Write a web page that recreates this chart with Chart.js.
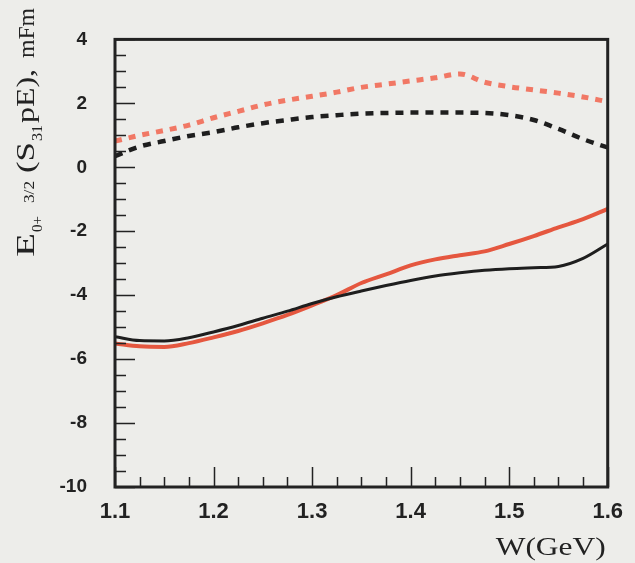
<!DOCTYPE html>
<html lang="en">
<head>
  <meta charset="UTF-8">
  <title>E0+ 3/2 (S31 pE)</title>
  <script src="https://cdn.jsdelivr.net/npm/chart.js"></script>
  <style>
    body {
      margin: 0;
      padding: 0;
      background-color: #ededea;
    }
    #wrap {
      width: 635px;
      height: 563px;
    }
  </style>
</head>
<body>
  <div id="wrap">
    <canvas id="chart" width="635" height="563"></canvas>
  </div>

  <script>
    // W (GeV) grid the curves were read on
    const wValues = [1.100, 1.125, 1.150, 1.175, 1.200, 1.225, 1.250, 1.275, 1.300, 1.325, 1.350,
                     1.375, 1.400, 1.425, 1.450, 1.475, 1.500, 1.525, 1.550, 1.575, 1.600];

    const blackSolid = [-5.30, -5.42, -5.43, -5.33, -5.15, -4.95, -4.72, -4.50, -4.26, -4.05, -3.87,
                        -3.70, -3.54, -3.40, -3.30, -3.22, -3.17, -3.14, -3.10, -2.85, -2.40];
    const redSolid   = [-5.51, -5.60, -5.62, -5.50, -5.32, -5.12, -4.88, -4.62, -4.32, -4.00, -3.62,
                        -3.35, -3.07, -2.88, -2.75, -2.63, -2.40, -2.15, -1.88, -1.62, -1.30];
    const blackDash  = [0.35, 0.65, 0.82, 0.98, 1.10, 1.25, 1.38, 1.48, 1.57, 1.63, 1.68,
                        1.70, 1.71, 1.71, 1.71, 1.70, 1.63, 1.48, 1.20, 0.88, 0.62];
    const redDash    = [0.82, 1.00, 1.15, 1.32, 1.55, 1.75, 1.95, 2.10, 2.22, 2.35, 2.50,
                        2.60, 2.70, 2.80, 2.92, 2.66, 2.52, 2.42, 2.32, 2.20, 2.05];

    const xTickLabels = ['1.1', '1.2', '1.3', '1.4', '1.5', '1.6'];
    const yTickLabels = ['-10', '-8', '-6', '-4', '-2', '0', '2', '4'];

    const pts = arr => arr.map((v, i) => ({x: wValues[i], y: v}));

    // draw a text run squeezed/stretched to a given width
    function fitText(ctx, text, x, y, width) {
      const w = ctx.measureText(text).width;
      ctx.save();
      ctx.translate(x, y);
      ctx.scale(width / w, 1);
      ctx.fillText(text, 0, 0);
      ctx.restore();
    }

    // frame + inside ticks, like the original plot
    const frameTicks = {
      id: 'frameTicks',
      afterDatasetsDraw(chart) {
        const {ctx, chartArea: a, scales} = chart;
        const xs = scales.x, ys = scales.y;
        ctx.save();
        ctx.strokeStyle = '#222';
        ctx.lineWidth = 1.5;
        ctx.beginPath();
        for (let k = 0; k <= 20; k++) {
          const v = 1.1 + k * 0.025;
          const px = Math.round(xs.getPixelForValue(v)) + 0.5;
          const len = (k % 4 === 0) ? 20 : 10;
          ctx.moveTo(px, a.bottom);
          ctx.lineTo(px, a.bottom - len);
        }
        for (let k = 0; k <= 28; k++) {
          const v = -10 + k * 0.5;
          const py = Math.round(ys.getPixelForValue(v)) + 0.5;
          const len = (k % 4 === 0) ? 20 : 11;
          ctx.moveTo(a.left, py);
          ctx.lineTo(a.left + len, py);
        }
        ctx.stroke();
        ctx.lineWidth = 3;
        ctx.strokeRect(a.left, a.top, a.right - a.left, a.bottom - a.top);
        ctx.restore();
      }
    };

    // axis titles (the scan has wide serif letters, so runs are fitted to width)
    const titles = {
      id: 'titles',
      afterDraw(chart) {
        const ctx = chart.ctx;
        const serif = '"Liberation Serif", "DejaVu Serif", serif';
        const runs = [
          {t: 'E',     at: 0,   w: 24, size: 25, dy: 0},
          {t: '0+',    at: 25,  w: 16, size: 15, dy: 8},
          {t: '3/2',   at: 54,  w: 22, size: 14, dy: 0},
          {t: '(S',    at: 84,  w: 31, size: 25, dy: 0},
          {t: '31',    at: 116, w: 16, size: 15, dy: 8},
          {t: 'pE),',  at: 134, w: 54, size: 25, dy: 0},
          {t: 'mFm',   at: 199, w: 50, size: 24, dy: 0}
        ];
        ctx.save();
        ctx.fillStyle = '#222';
        ctx.textBaseline = 'alphabetic';
        ctx.textAlign = 'left';
        ctx.save();
        ctx.translate(34, 257);
        ctx.rotate(-Math.PI / 2);
        runs.forEach(r => {
          ctx.font = r.size + 'px ' + serif;
          fitText(ctx, r.t, r.at, r.dy, r.w);
        });
        ctx.restore();

        ctx.font = '25px ' + serif;
        fitText(ctx, 'W(GeV)', chart.chartArea.right - 112, 555, 110);
        ctx.restore();
      }
    };

    const ctx = document.getElementById('chart').getContext('2d');
    new Chart(ctx, {
      type: 'line',
      data: {
        datasets: [
          {
            label: 'black solid',
            data: pts(blackSolid),
            borderColor: '#1e1e1e',
            borderWidth: 3,
            order: 1
          },
          {
            label: 'red solid',
            data: pts(redSolid),
            borderColor: '#e5573f',
            borderWidth: 4,
            order: 2
          },
          {
            label: 'black dashed',
            data: pts(blackDash),
            borderColor: '#1e1e1e',
            borderWidth: 4.5,
            borderDash: [8, 7],
            order: 3
          },
          {
            label: 'red dashed',
            data: pts(redDash),
            borderColor: '#f17865',
            borderWidth: 5,
            borderDash: [7, 7],
            order: 4
          }
        ]
      },
      options: {
        responsive: false,
        animation: false,
        events: [],
        layout: {
          padding: {left: 0, right: 23, top: 37, bottom: 0}
        },
        elements: {
          point: {radius: 0},
          line: {cubicInterpolationMode: 'monotone', fill: false}
        },
        plugins: {
          legend: {display: false},
          tooltip: {enabled: false}
        },
        scales: {
          x: {
            type: 'linear',
            min: 1.1,
            max: 1.6,
            afterFit: s => { s.height = 76; },
            afterBuildTicks: s => {
              s.ticks = xTickLabels.map(t => ({value: parseFloat(t)}));
            },
            grid: {display: false, drawTicks: false},
            border: {display: false},
            ticks: {
              padding: 12,
              color: '#222',
              font: {family: '"Liberation Sans", Arial, sans-serif', size: 22, weight: 'bold'},
              callback: (v, i) => xTickLabels[i]
            }
          },
          y: {
            type: 'linear',
            min: -10,
            max: 4,
            afterFit: s => { s.width = 115; },
            afterBuildTicks: s => {
              s.ticks = yTickLabels.map(t => ({value: parseFloat(t)}));
            },
            grid: {display: false, drawTicks: false},
            border: {display: false},
            ticks: {
              padding: 28,
              color: '#222',
              font: {family: '"Liberation Sans", Arial, sans-serif', size: 19, weight: 'bold'},
              callback: (v, i) => yTickLabels[i]
            }
          }
        }
      },
      plugins: [frameTicks, titles]
    });
  </script>
</body>
</html>
